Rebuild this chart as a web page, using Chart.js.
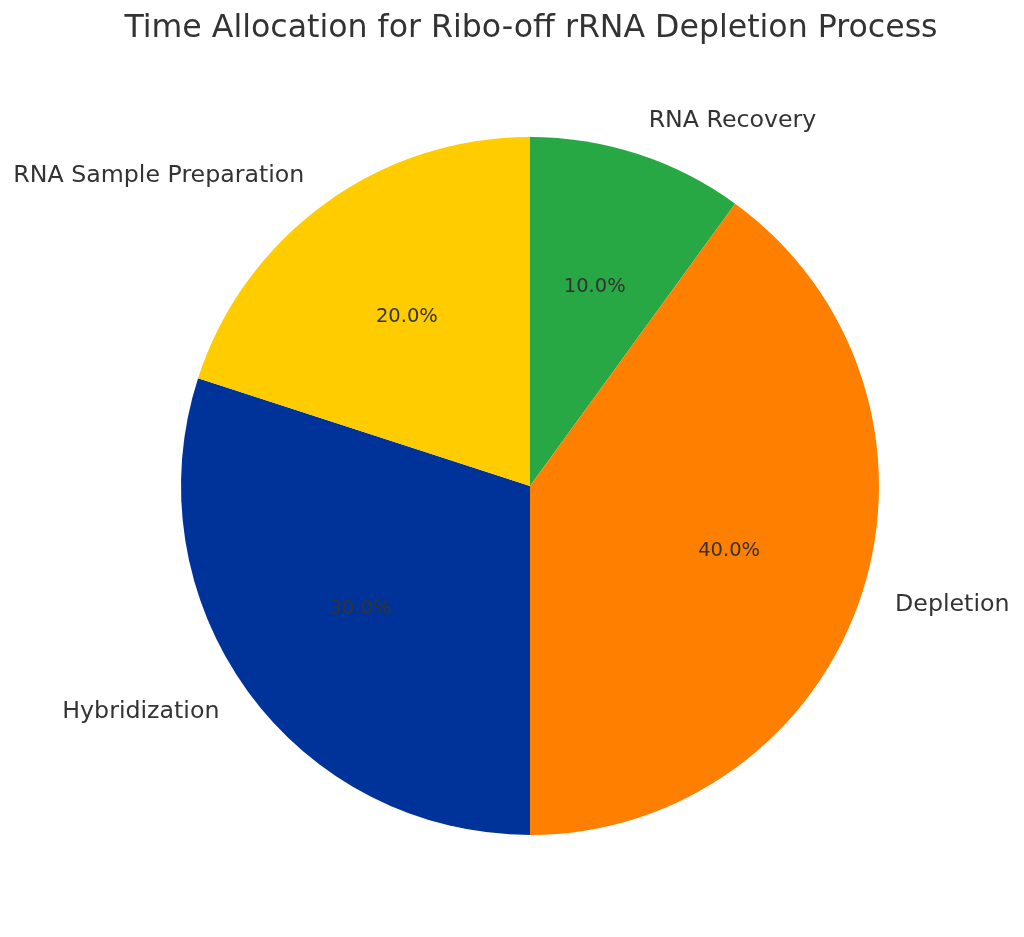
<!DOCTYPE html>
<html>
<head>
<meta charset="utf-8">
<title>Time Allocation for Ribo-off rRNA Depletion Process</title>
<script src="https://cdn.jsdelivr.net/npm/chart.js@4/dist/chart.umd.min.js"></script>
<style>
  html, body { margin: 0; padding: 0; background: #ffffff; }
  #wrap { width: 1024px; height: 937px; }
</style>
</head>
<body>
<div id="wrap"><canvas id="pieChart" width="1024" height="937"></canvas></div>
<script>
// matplotlib order (counter-clockwise from the top)
const steps = ['RNA Sample Preparation', 'Hybridization', 'Depletion', 'RNA Recovery'];
const shares = [20, 30, 40, 10];
const sliceColors = ['#FFCC00', '#003399', '#FF7F00', '#28A745'];

const chartTitle = 'Time Allocation for Ribo-off rRNA Depletion Process';
const textColor = '#333333';
const fontFamily = '"DejaVu Sans", Verdana, sans-serif';

// Chart.js goes clockwise, so flip the order
const labels = steps.slice().reverse();
const values = shares.slice().reverse();
const colors = sliceColors.slice().reverse();

const pieLabels = {
  id: 'pieLabels',
  afterDraw(chart) {
    const ctx = chart.ctx;
    const total = values.reduce((a, b) => a + b, 0);
    ctx.save();

    // title
    ctx.fillStyle = textColor;
    ctx.font = '31.6px ' + fontFamily;
    ctx.textAlign = 'center';
    ctx.textBaseline = 'middle';
    ctx.fillText(chartTitle, 531, 29);

    chart.getDatasetMeta(0).data.forEach((arc, i) => {
      const mid = (arc.startAngle + arc.endAngle) / 2;
      const r = arc.outerRadius;
      const cx = Math.cos(mid), cy = Math.sin(mid);

      // category label outside
      ctx.font = '23.7px ' + fontFamily;
      ctx.textAlign = cx >= 0 ? 'left' : 'right';
      ctx.textBaseline = 'middle';
      ctx.fillText(labels[i], arc.x + cx * r * 1.1, arc.y + cy * r * 1.1);

      // percentage inside
      ctx.font = '19.5px ' + fontFamily;
      ctx.textAlign = 'center';
      ctx.fillText((values[i] / total * 100).toFixed(1) + '%', arc.x + cx * r * 0.6, arc.y + cy * r * 0.6);
    });
    ctx.restore();
  }
};

new Chart(document.getElementById('pieChart'), {
  type: 'pie',
  data: {
    labels: labels,
    datasets: [{
      data: values,
      backgroundColor: colors,
      borderWidth: 0
    }]
  },
  options: {
    responsive: false,
    animation: false,
    devicePixelRatio: 1,
    layout: { padding: { top: 137, bottom: 102, left: 181, right: 145 } },
    plugins: {
      legend: { display: false },
      tooltip: { enabled: false },
      title: { display: false }
    }
  },
  plugins: [pieLabels]
});
</script>
</body>
</html>
